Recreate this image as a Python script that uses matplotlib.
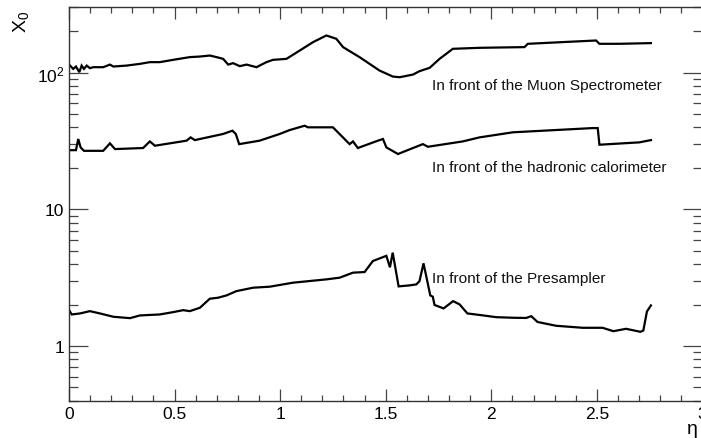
import matplotlib
matplotlib.use('Agg')
import matplotlib.pyplot as plt
from matplotlib.ticker import FixedLocator, FixedFormatter, LogLocator, MultipleLocator, NullFormatter

plt.rcParams['font.family'] = ['Liberation Sans', 'DejaVu Sans']
plt.rcParams['mathtext.fontset'] = 'custom'
plt.rcParams['mathtext.rm'] = 'Liberation Sans'
plt.rcParams['mathtext.it'] = 'Liberation Sans:italic'

# material in front of the muon spectrometer
muon_eta = [0.005, 0.020, 0.033, 0.049, 0.060, 0.071, 0.084, 0.099, 0.115, 0.162,
            0.194, 0.210, 0.273, 0.336, 0.383, 0.430, 0.493, 0.572, 0.620, 0.667,
            0.699, 0.730, 0.754, 0.777, 0.809, 0.841, 0.888, 0.935, 0.966, 1.030,
            1.093, 1.156, 1.219, 1.266, 1.298, 1.376, 1.471, 1.534, 1.566, 1.629,
            1.660, 1.708, 1.755, 1.818, 1.944, 2.157, 2.173, 2.338, 2.496, 2.512,
            2.606, 2.756]
muon_x0 = [112.5, 106.4, 110.7, 100.7, 112.5, 106.4, 112.5, 107.7, 109.5, 109.5,
           114.4, 110.7, 112.5, 115.8, 119.2, 119.2, 123.9, 129.7, 131.0, 133.2,
           129.7, 126.0, 114.4, 117.2, 111.4, 114.4, 109.5, 119.2, 123.9, 126.0,
           145.0, 167.0, 186.7, 176.6, 153.5, 129.7, 103.4, 93.5, 92.5, 96.7,
           102.4, 108.3, 126.0, 149.2, 151.7, 153.5, 162.3, 167.0, 171.6, 162.3,
           162.3, 164.2]

# material in front of the hadronic calorimeter
hcal_eta = [0.005, 0.033, 0.044, 0.055, 0.071, 0.162, 0.194, 0.218, 0.351, 0.383,
            0.407, 0.557, 0.576, 0.596, 0.730, 0.774, 0.790, 0.806, 0.903, 0.998,
            1.045, 1.116, 1.132, 1.250, 1.329, 1.345, 1.368, 1.463, 1.487, 1.503,
            1.558, 1.629, 1.676, 1.700, 1.865, 1.944, 2.102, 2.480, 2.504, 2.512,
            2.701, 2.756]
hcal_x0 = [27.1, 27.1, 32.7, 28.4, 26.8, 26.8, 30.4, 27.6, 28.1, 31.4,
           29.2, 31.8, 33.6, 32.1, 35.6, 37.6, 35.6, 30.0, 31.8, 35.6,
           38.0, 40.9, 39.8, 39.8, 30.0, 31.4, 28.1, 31.8, 32.7, 28.4,
           25.4, 28.1, 30.0, 28.7, 31.4, 33.6, 36.6, 39.3, 39.3, 29.7,
           30.9, 32.1]

# material in front of the presampler
ps_eta = [0.001, 0.013, 0.052, 0.099, 0.147, 0.210, 0.289, 0.336, 0.430, 0.493,
          0.541, 0.572, 0.620, 0.667, 0.706, 0.746, 0.793, 0.872, 0.951, 1.061,
          1.219, 1.282, 1.345, 1.400, 1.439, 1.503, 1.520, 1.533, 1.561, 1.613,
          1.645, 1.660, 1.679, 1.693, 1.711, 1.723, 1.731, 1.774, 1.819, 1.850,
          1.887, 1.944, 2.023, 2.102, 2.165, 2.189, 2.219, 2.307, 2.433, 2.527,
          2.578, 2.638, 2.706, 2.720, 2.737, 2.756]
ps_x0 = [1.835, 1.707, 1.736, 1.805, 1.736, 1.642, 1.604, 1.679, 1.707, 1.775,
         1.835, 1.805, 1.911, 2.225, 2.262, 2.352, 2.528, 2.678, 2.724, 2.914,
         3.081, 3.170, 3.450, 3.485, 4.195, 4.579, 3.773, 4.833, 2.738, 2.784,
         2.831, 2.994, 4.036, 3.186, 2.352, 2.301, 2.004, 1.889, 2.136, 2.021,
         1.736, 1.693, 1.631, 1.615, 1.609, 1.659, 1.504, 1.411, 1.364, 1.364,
         1.288, 1.341, 1.275, 1.303, 1.796, 1.987]

labels = ['In front of the Muon Spectrometer',
          'In front of the hadronic calorimeter',
          'In front of the Presampler']
label_eta = [1.717, 1.717, 1.717]
label_x0 = [75.9, 19.1, 2.94]

y_major = [1, 10, 100]
y_major_labels = ['1', '10', '$10^2$']
x_major = [0, 0.5, 1, 1.5, 2, 2.5, 3]
x_major_labels = ['0', '0.5', '1', '1.5', '2', '2.5', '3']

fig = plt.figure(figsize=(7.01, 4.39), dpi=100)
ax = fig.add_axes([0.0984, 0.0850, 0.9037, 0.8961])

for xs, ys in [(muon_eta, muon_x0), (hcal_eta, hcal_x0), (ps_eta, ps_x0)]:
    ax.plot(xs, ys, color='black', lw=1.6, solid_joinstyle='miter')

for txt, tx, ty in zip(labels, label_eta, label_x0):
    ax.text(tx, ty, txt, fontsize=11.1, ha='left', va='baseline', color='#111111')

ax.set_yscale('log')
ax.set_xlim(0, 3)
ax.set_ylim(0.4, 300)

ax.yaxis.set_major_locator(FixedLocator(y_major))
ax.yaxis.set_major_formatter(FixedFormatter(y_major_labels))
ax.yaxis.set_minor_locator(LogLocator(base=10, subs=range(2, 10)))
ax.yaxis.set_minor_formatter(NullFormatter())
ax.xaxis.set_major_locator(FixedLocator(x_major))
ax.xaxis.set_major_formatter(FixedFormatter(x_major_labels))
ax.xaxis.set_minor_locator(MultipleLocator(0.1))

ax.tick_params(which='both', direction='in', top=True, right=True, color='#444444', width=0.9)
ax.tick_params(axis='y', which='major', length=13.5, labelsize=12.5, pad=3.5)
ax.tick_params(axis='y', which='minor', length=6.5)
ax.tick_params(axis='x', which='major', length=8.6, labelsize=12.5, pad=4)
ax.tick_params(axis='x', which='minor', length=4.3)

for side in ax.spines.values():
    side.set_color('#333333')
    side.set_linewidth(1.0)

fig.text(0.03, 0.975, 'X$_0$', rotation=90, fontsize=14, ha='center', va='top')
fig.text(0.996, 0.003, 'η', fontsize=14, ha='right', va='bottom')

fig.savefig('out.png', dpi=100)
